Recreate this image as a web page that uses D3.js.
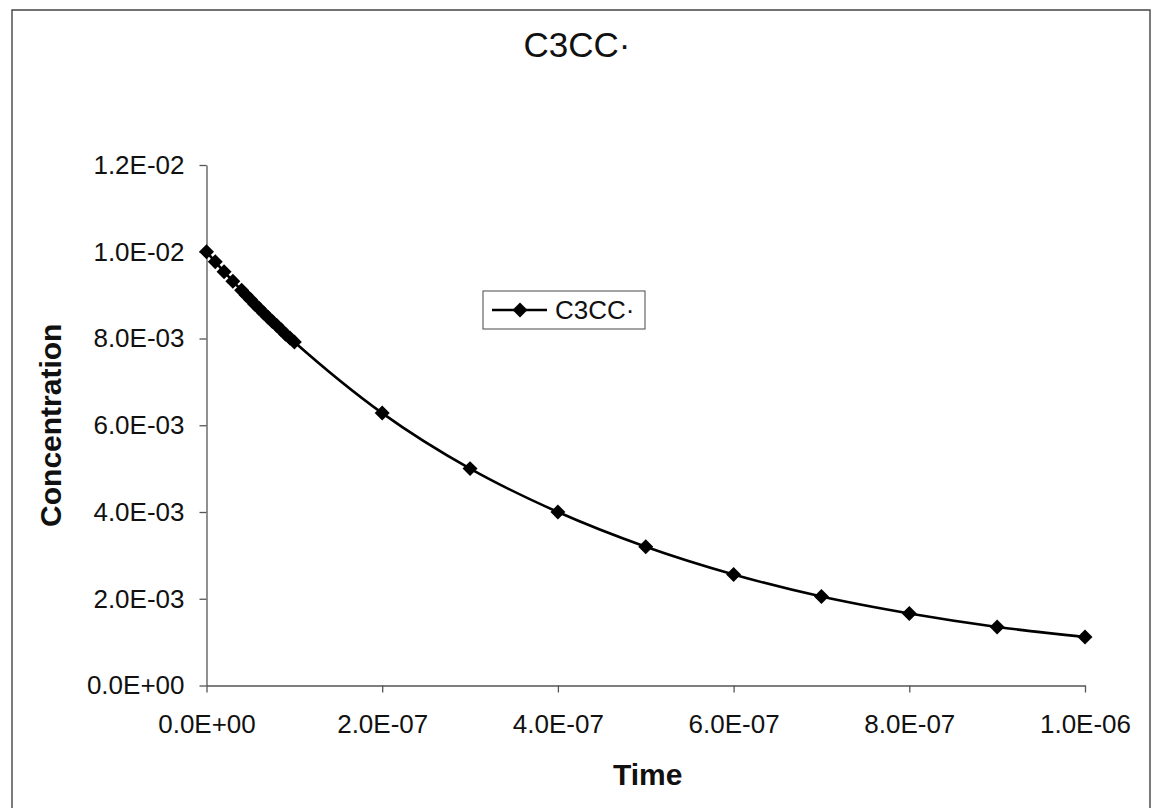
<!DOCTYPE html>
<html>
<head>
<meta charset="utf-8">
<script src="https://cdn.jsdelivr.net/npm/d3@7"></script>
<style>
  html, body { margin: 0; padding: 0; background: #fff; }
  svg { display: block; }
  text { font-family: "Liberation Sans", Arial, sans-serif; fill: #111; }
</style>
</head>
<body>
<svg id="chart" width="1152" height="808"></svg>
<script>
// C3CC· radical concentration over time
const seriesName = "C3CC·";
const times = [
  0, 1e-8, 2e-8, 3e-8, 4e-8, 4.5e-8, 5e-8, 5.5e-8, 6e-8, 6.5e-8, 7e-8,
  7.5e-8, 8e-8, 8.5e-8, 9e-8, 9.5e-8, 1e-7,
  2e-7, 3e-7, 4e-7, 5e-7, 6e-7, 7e-7, 8e-7, 9e-7, 1e-6
];
const concentrations = [
  1.000e-2, 9.77e-3, 9.54e-3, 9.32e-3, 9.11e-3, 9.00e-3, 8.90e-3, 8.79e-3, 8.69e-3, 8.59e-3, 8.49e-3,
  8.39e-3, 8.30e-3, 8.20e-3, 8.10e-3, 8.01e-3, 7.92e-3,
  6.28e-3, 5.00e-3, 4.00e-3, 3.20e-3, 2.56e-3, 2.05e-3, 1.66e-3, 1.35e-3, 1.12e-3
];
const xTickValues = [0, 2e-7, 4e-7, 6e-7, 8e-7, 1e-6];
const xTickLabels = ["0.0E+00", "2.0E-07", "4.0E-07", "6.0E-07", "8.0E-07", "1.0E-06"];
const yTickValues = [0, 2e-3, 4e-3, 6e-3, 8e-3, 1.0e-2, 1.2e-2];
const yTickLabels = ["0.0E+00", "2.0E-03", "4.0E-03", "6.0E-03", "8.0E-03", "1.0E-02", "1.2E-02"];

const svg = d3.select("#chart");
const root = svg.append("g");

// outer frame
root.append("path")
  .attr("d", "M12,808 L12,10 L1150,10 L1150,808")
  .attr("fill", "none").attr("stroke", "#444").attr("stroke-width", 1.4);

const plot = { left: 206.5, right: 1085, top: 165, bottom: 685.5 };

const x = d3.scaleLinear().domain([0, 1e-6]).range([plot.left, plot.right]);
const y = d3.scaleLinear().domain([0, 1.2e-2]).range([plot.bottom, plot.top]);

// title
root.append("text")
  .attr("x", 577).attr("y", 57)
  .attr("text-anchor", "middle")
  .style("font-size", "35px")
  .text(seriesName);

// axes
const xAxis = d3.axisBottom(x)
  .tickValues(xTickValues)
  .tickFormat((d, i) => xTickLabels[i])
  .tickSize(7).tickSizeOuter(0).tickPadding(22);
const yAxis = d3.axisLeft(y)
  .tickValues(yTickValues)
  .tickFormat((d, i) => yTickLabels[i])
  .tickSize(7).tickSizeOuter(0).tickPadding(15);

const gx = root.append("g").attr("transform", `translate(0,${plot.bottom})`).call(xAxis);
const gy = root.append("g").attr("transform", `translate(${plot.left},0)`).call(yAxis);
[gx, gy].forEach(g => {
  g.selectAll("path.domain").attr("stroke", "#555").attr("stroke-width", 1.3);
  g.selectAll(".tick line").attr("stroke", "#555").attr("stroke-width", 1.3);
  g.selectAll(".tick text")
    .style("font-family", "'Liberation Sans', Arial, sans-serif")
    .style("font-size", "26px").attr("fill", "#111");
});

// axis titles
root.append("text")
  .attr("x", (plot.left + plot.right) / 2 + 2).attr("y", 785)
  .attr("text-anchor", "middle")
  .style("font-size", "30px").style("font-weight", "bold")
  .text("Time");
root.append("text")
  .attr("transform", `translate(61,${(plot.top + plot.bottom) / 2}) rotate(-90)`)
  .attr("text-anchor", "middle")
  .style("font-size", "30px").style("font-weight", "bold")
  .text("Concentration");

// series line and markers
const pts = times.map((t, i) => [t, concentrations[i]]);
const line = d3.line()
  .x(d => x(d[0])).y(d => y(d[1]))
  .curve(d3.curveMonotoneX);
root.append("path")
  .datum(pts)
  .attr("d", line)
  .attr("fill", "none").attr("stroke", "#000").attr("stroke-width", 2.6);

const diamond = d3.symbol().type(d3.symbolSquare).size(112);
root.append("g").selectAll("path")
  .data(pts)
  .join("path")
  .attr("d", diamond)
  .attr("transform", d => `translate(${x(d[0])},${y(d[1])}) rotate(45)`)
  .attr("fill", "#000");

// legend
const lg = root.append("g").attr("transform", "translate(483,291)");
lg.append("rect")
  .attr("width", 162).attr("height", 38)
  .attr("fill", "#fff").attr("stroke", "#666").attr("stroke-width", 1.2);
lg.append("line")
  .attr("x1", 9).attr("x2", 64).attr("y1", 19).attr("y2", 19)
  .attr("stroke", "#000").attr("stroke-width", 2.6);
lg.append("path")
  .attr("d", diamond)
  .attr("transform", "translate(37,19) rotate(45)")
  .attr("fill", "#000");
lg.append("text")
  .attr("x", 72).attr("y", 28)
  .style("font-size", "26px")
  .text(seriesName);
</script>
</body>
</html>
